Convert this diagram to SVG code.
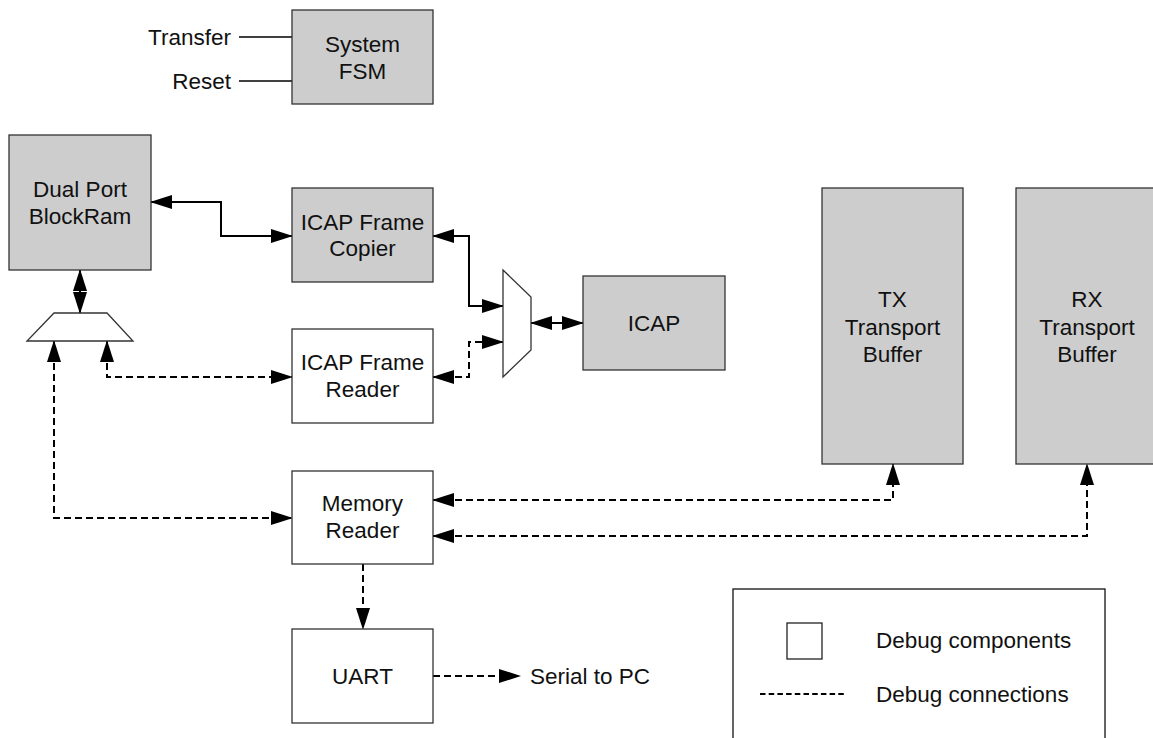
<svg xmlns="http://www.w3.org/2000/svg" width="1153" height="738" viewBox="0 0 1153 738">
  <style>
    .box { stroke: #333; stroke-width: 1.3; }
    .core { fill: #cdcdcd; }
    .dbg { fill: #ffffff; }
    text { font-family: "Liberation Sans", Arial, sans-serif; font-size: 22.5px; fill: #111; }
    .c { text-anchor: middle; }
    .r { text-anchor: end; }
    .wire { fill: none; stroke: #000; stroke-width: 2; }
    .dash { stroke-dasharray: 7 4; }
    .thin { fill: none; stroke: #000; stroke-width: 1.3; }
  </style>
  <defs>
    <marker id="ah" markerUnits="userSpaceOnUse" markerWidth="22" markerHeight="14" refX="21" refY="7" orient="auto-start-reverse">
      <path d="M0,0 L22,7 L0,14 z" fill="#000"/>
    </marker>
  </defs>

  <rect width="1153" height="738" fill="#fff"/>

  <!-- connectors -->
  <g id="connectors">
    <path class="thin" d="M239,37 H292"/>
    <path class="thin" d="M239,81 H292"/>
    <path class="wire" d="M151,202 H221 V236 H292" marker-start="url(#ah)" marker-end="url(#ah)"/>
    <path class="wire" d="M80,270 V313" marker-start="url(#ah)" marker-end="url(#ah)"/>
    <path class="wire" d="M433,236 H469 V306 H503" marker-start="url(#ah)" marker-end="url(#ah)"/>
    <path class="wire" d="M531,323 H583" marker-start="url(#ah)" marker-end="url(#ah)"/>
    <path class="wire dash" d="M107,341 V377 H292" marker-start="url(#ah)" marker-end="url(#ah)"/>
    <path class="wire dash" d="M54,341 V518 H292" marker-start="url(#ah)" marker-end="url(#ah)"/>
    <path class="wire dash" d="M433,377 H469 V342 H503" marker-start="url(#ah)" marker-end="url(#ah)"/>
    <path class="wire dash" d="M433,500 H893 V464" marker-start="url(#ah)" marker-end="url(#ah)"/>
    <path class="wire dash" d="M433,536 H1087 V464" marker-start="url(#ah)" marker-end="url(#ah)"/>
    <path class="wire dash" d="M363,564 V629" marker-end="url(#ah)"/>
    <path class="wire dash" d="M433,676 H520" marker-end="url(#ah)"/>
  </g>

  <!-- input signal labels -->
  <g id="inputs">
    <text class="r" x="231" y="45">Transfer</text>
    <text class="r" x="231" y="89">Reset</text>
  </g>

  <g id="system-fsm">
    <rect class="box core" x="292" y="10" width="141" height="94"/>
    <text class="c" x="362.5" y="52">System</text>
    <text class="c" x="362.5" y="79">FSM</text>
  </g>

  <g id="blockram">
    <rect class="box core" x="9" y="135" width="142" height="135"/>
    <text class="c" x="80" y="197">Dual Port</text>
    <text class="c" x="80" y="224">BlockRam</text>
  </g>

  <g id="ram-mux">
    <polygon class="box dbg" points="54,313 107,313 133,341 27,341"/>
  </g>

  <g id="frame-copier">
    <rect class="box core" x="292" y="188" width="141" height="94"/>
    <text class="c" x="362.5" y="230">ICAP Frame</text>
    <text class="c" x="362.5" y="256">Copier</text>
  </g>

  <g id="frame-reader">
    <rect class="box dbg" x="292" y="329" width="141" height="94"/>
    <text class="c" x="362.5" y="370">ICAP Frame</text>
    <text class="c" x="362.5" y="397">Reader</text>
  </g>

  <g id="icap-mux">
    <polygon class="box dbg" points="503,270 531,297 531,350 503,377"/>
  </g>

  <g id="icap">
    <rect class="box core" x="583" y="276" width="142" height="94"/>
    <text class="c" x="654" y="331">ICAP</text>
  </g>

  <g id="tx-buffer">
    <rect class="box core" x="822" y="188" width="141" height="276"/>
    <text class="c" x="892.5" y="307">TX</text>
    <text class="c" x="892.5" y="335">Transport</text>
    <text class="c" x="892.5" y="362">Buffer</text>
  </g>

  <g id="rx-buffer">
    <rect class="box core" x="1016" y="188" width="141" height="276"/>
    <text class="c" x="1087" y="307">RX</text>
    <text class="c" x="1087" y="335">Transport</text>
    <text class="c" x="1087" y="362">Buffer</text>
  </g>

  <g id="memory-reader">
    <rect class="box dbg" x="292" y="471" width="141" height="93"/>
    <text class="c" x="362.5" y="511">Memory</text>
    <text class="c" x="362.5" y="538">Reader</text>
  </g>

  <g id="uart">
    <rect class="box dbg" x="292" y="629" width="141" height="94"/>
    <text class="c" x="362.5" y="684">UART</text>
  </g>

  <g id="serial-label">
    <text x="530" y="684">Serial to PC</text>
  </g>

  <g id="legend">
    <rect x="733" y="589" width="372" height="160" fill="#fff" stroke="#111" stroke-width="1.3"/>
    <rect x="787" y="623" width="35" height="36" fill="#fff" stroke="#222" stroke-width="1.3"/>
    <text x="876" y="648">Debug components</text>
    <path d="M760,694 H846" fill="none" stroke="#000" stroke-width="1.8" stroke-dasharray="5.5 3.2"/>
    <text x="876" y="702">Debug connections</text>
  </g>
</svg>
